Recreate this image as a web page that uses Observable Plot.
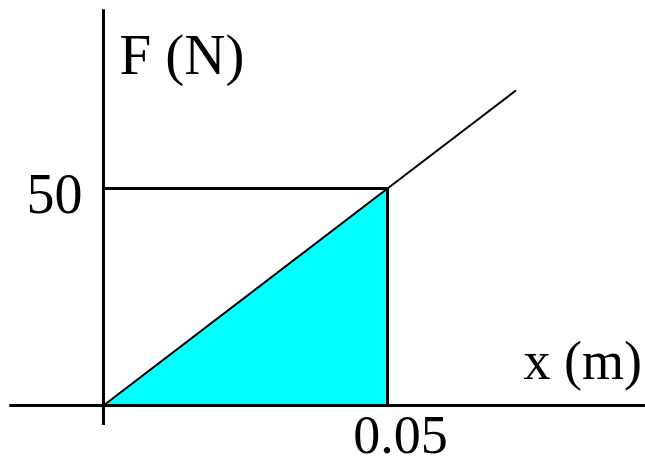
<!DOCTYPE html>
<html>
<head>
<meta charset="utf-8">
<script src="https://cdn.jsdelivr.net/npm/d3@7"></script>
<script src="https://cdn.jsdelivr.net/npm/@observablehq/plot@0.6"></script>
<style>
  html, body { margin: 0; padding: 0; background: #fff; }
  #chart svg { display: block; }
</style>
</head>
<body>
<div id="chart"></div>
<script>
// Data
const lineX = [0, 0.05, 0.0725];
const lineF = [0, 50, 72.5];
const areaX = [0, 0.05];
const areaF = [0, 50];
const xTicks = [0.05];
const yTicks = [50];
const xLabel = "x (m)";
const yLabel = "F (N)";

const lineData = lineX.map((x, i) => ({x, F: lineF[i]}));
const areaData = areaX.map((x, i) => ({x, F: areaF[i]}));

const font = "'Liberation Serif', 'Times New Roman', serif";

const chart = Plot.plot({
  width: 645,
  height: 464,
  margin: 0,
  style: {background: "#fff", fontFamily: font},
  x: {domain: [-0.01813, 0.09542], axis: null},
  y: {domain: [-13.59, 93.32], axis: null},
  marks: [
    Plot.areaY(areaData, {x: "x", y: "F", fill: "#00FFFF"}),
    Plot.ruleY([0], {x1: -0.0165, x2: 0.0954, stroke: "black", strokeWidth: 3}),
    Plot.ruleX([0], {y1: -4.6, y2: 91.2, stroke: "black", strokeWidth: 3}),
    Plot.ruleY(yTicks, {x1: 0, x2: xTicks[0], stroke: "black", strokeWidth: 3}),
    Plot.ruleX(xTicks, {y1: 0, y2: yTicks[0], stroke: "black", strokeWidth: 3}),
    Plot.line(lineData, {x: "x", y: "F", stroke: "black", strokeWidth: 2}),
    Plot.text(yTicks, {x: -0.0037, y: d => d, text: d => String(d), textAnchor: "end", lineAnchor: "bottom", dy: 24, fontSize: 56, fill: "black"}),
    Plot.text(xTicks, {x: d => d, y: 0, text: d => String(d), textAnchor: "middle", lineAnchor: "bottom", dy: 47, dx: 13, fontSize: 54, fill: "black"}),
    Plot.text([yLabel], {x: 0.0028, y: 76.3, text: d => d, textAnchor: "start", lineAnchor: "bottom", fontSize: 57, fill: "black"}),
    Plot.text([xLabel], {x: 0.0948, y: 6.2, text: d => d, textAnchor: "end", lineAnchor: "bottom", fontSize: 54, fill: "black"})
  ]
});
document.getElementById("chart").appendChild(chart);
</script>
</body>
</html>
